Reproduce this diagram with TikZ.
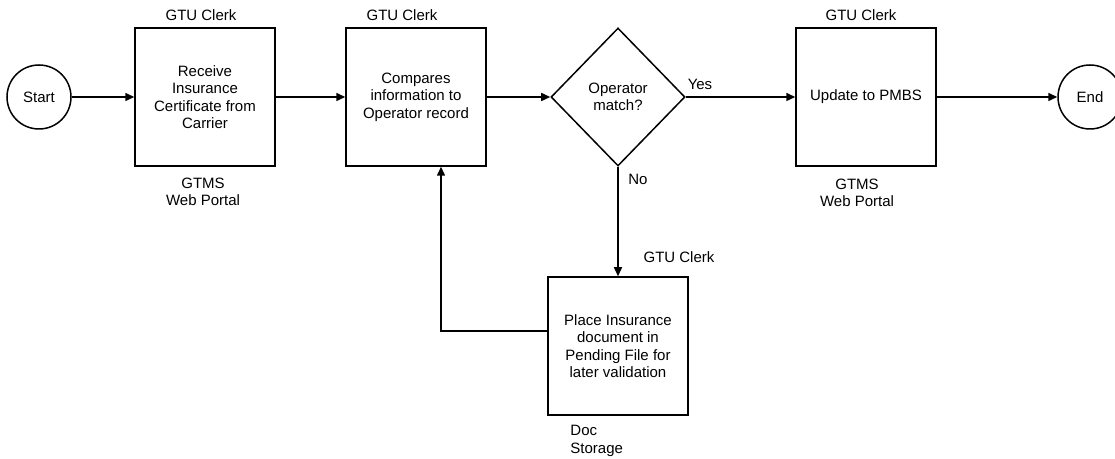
\documentclass[tikz,border=0pt]{standalone}
\usepackage{fontspec}
\setmainfont{Liberation Sans}
\usetikzlibrary{shapes.geometric,arrows.meta}
\begin{document}
\begin{tikzpicture}[x=0.5pt,y=-0.5pt,line width=0.75pt,
	every node/.style={font=\fontsize{7.5}{8.75}\selectfont},
	terminal/.style={draw,circle,inner sep=0pt,minimum size=32pt},
	task/.style={draw,rectangle,inner sep=0pt,minimum width=70pt,minimum height=69pt,align=center},
	decision/.style={draw,diamond,inner sep=0pt,minimum width=67pt,minimum height=69pt,align=center},
	flow/.style={-{Triangle[length=4.5pt,width=4pt]}}]
	\useasboundingbox (0,0) rectangle (1115,459);
	\node (start) [terminal] at (39,97) {Start};
	\node (recv) [task] at (205,97) {Receive\\Insurance\\Certificate from\\Carrier};
	\node (comp) [task] at (416,97) {Compares\\information to\\Operator record};
	\node (match) [decision] at (618,97) {Operator\\match?};
	\node (upd) [task] at (866,97) {Update to PMBS};
	\node (end) [terminal] at (1090,97) {End};
	\node (place) [task] at (618,346) {Place Insurance\\document in\\Pending File for\\later validation};
	\node (clerk1) at (201,15) {GTU Clerk};
	\node (clerk2) at (402,15) {GTU Clerk};
	\node (clerk3) at (861,15) {GTU Clerk};
	\node (clerk4) at (679,257) {GTU Clerk};
	\node (sys1) [align=center] at (203,192) {GTMS\\Web Portal};
	\node (sys3) [align=center] at (857,193) {GTMS\\Web Portal};
	\node (sys4) [align=left,anchor=west] at (563,441) {Doc\\Storage};
	\node (yes) at (700,84) {Yes};
	\node (no) at (638,179) {No};
	\draw[flow] (start) -- (recv);
	\draw[flow] (recv) -- (comp);
	\draw[flow] (comp) -- (match);
	\draw[flow] (match) -- (upd);
	\draw[flow] (upd) -- (end);
	\draw[flow] (match) -- (place);
	\coordinate (back) at (441,331);
	\draw[flow] (place.west |- back) -- (back) -- (back |- comp.south);
\end{tikzpicture}
\end{document}
